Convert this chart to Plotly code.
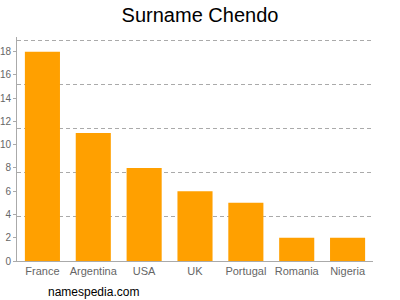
import plotly.graph_objects as go

countries = ["France", "Argentina", "USA", "UK", "Portugal", "Romania", "Nigeria"]
counts = [18, 11, 8, 6, 5, 2, 2]
ytick_vals = [0, 2, 4, 6, 8, 10, 12, 14, 16, 18]
grid_vals = [3.8, 7.6, 11.4, 15.2, 19]
y_top = 19.26

fig = go.Figure()
fig.add_trace(go.Bar(x=countries, y=counts, marker=dict(color="#FFA000", line=dict(width=0)),
                     hoverinfo="x+y"))
# invisible trace to activate grid axis
fig.add_trace(go.Scatter(x=countries, y=counts, yaxis="y2", mode="markers",
                         marker=dict(opacity=0), hoverinfo="skip", showlegend=False))

font = "Liberation Sans, Arial, sans-serif"
fig.update_layout(
    width=400, height=300,
    margin=dict(l=17, r=27, t=37, b=39),
    paper_bgcolor="white", plot_bgcolor="white",
    showlegend=False,
    bargap=0.31,
    title=dict(text="Surname Chendo", x=0.5, xanchor="center", y=0.95, yanchor="middle",
               font=dict(family=font, size=20, color="black")),
    xaxis=dict(showline=True, linecolor="#aaaaaa", linewidth=1, ticks="",
               tickfont=dict(family=font, size=11, color="#666666"), showgrid=False,
               automargin=False),
    yaxis=dict(range=[0, y_top], tickvals=ytick_vals, showline=True, linecolor="#aaaaaa",
               linewidth=1, ticks="outside", ticklen=3, tickcolor="#aaaaaa",
               tickfont=dict(family=font, size=10, color="#666666"), showgrid=False,
               zeroline=False, automargin=False),
    yaxis2=dict(range=[0, y_top], overlaying="y", tickvals=grid_vals, showticklabels=False,
                showgrid=True, gridcolor="#aaaaaa", griddash="4px,3px", gridwidth=1,
                zeroline=False, showline=False, side="right", automargin=False),
    annotations=[dict(text="namespedia.com", xref="paper", yref="paper", x=0.082, y=-0.137,
                      xanchor="left", yanchor="middle", showarrow=False,
                      font=dict(family=font, size=12, color="black"))],
)
fig.write_html("out.html")
